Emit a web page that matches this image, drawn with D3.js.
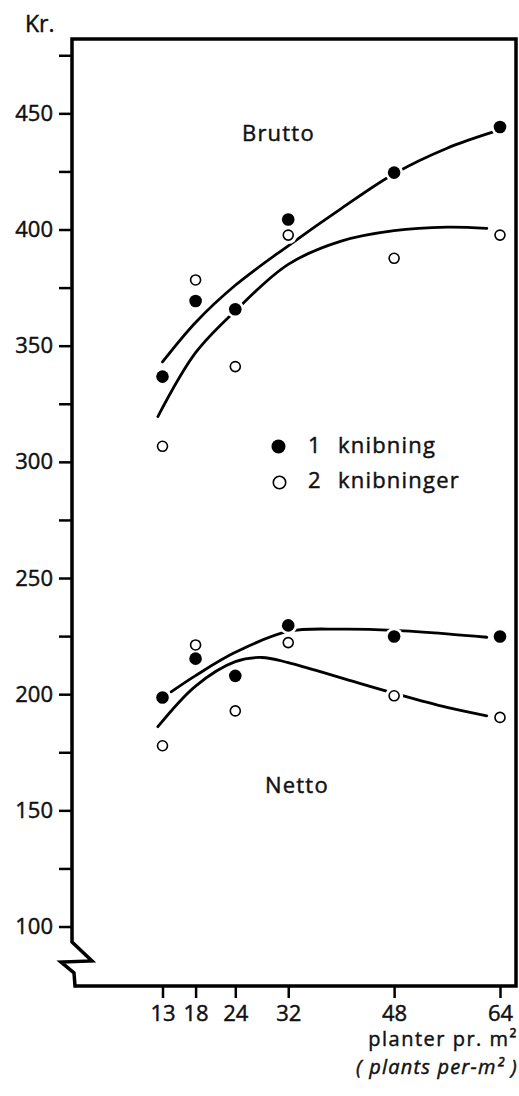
<!DOCTYPE html>
<html>
<head>
    <meta charset="utf-8">
    <script src="https://d3js.org/d3.v7.min.js"></script>
    <style>
        body { margin: 0; background: #fff; }
        svg { display: block; }
        text { font-family: "Open Sans", Lato, sans-serif; fill: #111; stroke: #111; stroke-width: 0.45px; }
    </style>
</head>
<body>
    <svg id="chart" width="519" height="1096"></svg>

    <script>
        // plant density (plants per m2)
        const density = [13, 18, 24, 32, 48, 64];

        // observed values, Kr.
        const brutto1 = [336.7, 369.2, 365.7, 404.3, 424.5, 444.1];
        const brutto2 = [306.7, 378.3, 341.0, 397.6, 387.6, 397.6];
        const netto1 = [198.6, 215.3, 207.9, 229.6, 224.8, 224.8];
        const netto2 = [177.8, 221.2, 192.8, 222.2, 199.3, 190.0];

        // hand drawn fitted curves
        const fitB1x = [13, 18, 24, 32, 40, 48, 56, 63];
        const fitB1y = [343, 360, 376, 393, 409, 424, 435, 442];
        const fitB2x = [12.3, 18, 24, 32, 40, 48, 56, 62];
        const fitB2y = [319.5, 347, 365, 385, 395, 399.5, 401, 400.5];
        const fitN1x = [14.3, 18, 24, 32, 40, 48, 56, 62];
        const fitN1y = [201, 208, 218, 227, 228, 227.5, 226, 224.5];
        const fitN2x = [12.3, 18, 24, 28, 32, 40, 48, 56, 62];
        const fitN2y = [186, 203.5, 214, 215.8, 213.6, 207, 200.4, 194.3, 190.7];

        const yTicks = d3.range(100, 476, 25);

        const svg = d3.select("#chart");

        const axisX = 72, rightX = 516;
        const x = d3.scaleLinear().domain([13, 64]).range([162.5, 500]);
        const y = d3.scaleLinear().domain([74.4, 482]).range([986, 39]);

        // frame with the broken value axis
        const frame = [
            [axisX, y(482)], [axisX, y(93.3)], [axisX + 20, y(85.2)],
            [axisX - 11, y(84.7)], [axisX + 2, y(80)], [axisX + 3, y(74.4)],
            [rightX, y(74.4)], [rightX, y(482)]
        ];
        svg.append("path")
            .attr("d", d3.line()(frame) + "Z")
            .attr("fill", "none")
            .attr("stroke", "#000")
            .attr("stroke-width", 3.5)
            .attr("stroke-linejoin", "miter");

        // y axis
        const yAxis = svg.append("g")
            .attr("transform", `translate(${axisX},0)`)
            .call(d3.axisLeft(y)
                .tickValues(yTicks)
                .tickSize(13)
                .tickPadding(6)
                .tickFormat(d => d % 50 === 0 ? d : ""));
        yAxis.select(".domain").remove();
        yAxis.selectAll("line").attr("stroke", "#000").attr("stroke-width", 2.5);
        yAxis.selectAll("text")
            .style("font-size", "22px")
            .attr("fill", "#111");

        // x axis
        const xAxis = svg.append("g")
            .attr("transform", `translate(0,${y(74.4)})`)
            .call(d3.axisBottom(x)
                .tickValues(density)
                .tickSize(12)
                .tickPadding(7));
        xAxis.select(".domain").remove();
        xAxis.selectAll("line").attr("stroke", "#000").attr("stroke-width", 2.5);
        xAxis.selectAll("text")
            .style("font-size", "22px")
            .attr("fill", "#111");

        // axis titles
        svg.append("text")
            .attr("x", 25).attr("y", 32)
            .style("font-size", "23px")
            .text("Kr.");

        svg.append("text")
            .attr("x", 518).attr("y", 1046)
            .attr("text-anchor", "end")
            .style("font-size", "20px")
            .style("letter-spacing", "1.5px")
            .html("planter pr. m²");

        svg.append("text")
            .attr("x", 518).attr("y", 1074)
            .attr("text-anchor", "end")
            .style("font-size", "20px")
            .style("font-style", "italic")
            .style("letter-spacing", "1.2px")
            .text("( plants per-m² )");

        // fitted curves
        const line = d3.line()
            .x(d => x(d[0]))
            .y(d => y(d[1]))
            .curve(d3.curveCatmullRom.alpha(0.5));

        const fits = [
            d3.zip(fitB1x, fitB1y), d3.zip(fitB2x, fitB2y),
            d3.zip(fitN1x, fitN1y), d3.zip(fitN2x, fitN2y)
        ];
        svg.append("g").selectAll("path")
            .data(fits)
            .join("path")
            .attr("d", line)
            .attr("fill", "none")
            .attr("stroke", "#000")
            .attr("stroke-width", 2.8)
            .attr("stroke-linecap", "round");

        // points: white halo first so the curves break round the markers
        const filled = d3.zip(density, brutto1).concat(d3.zip(density, netto1));
        const open = d3.zip(density, brutto2).concat(d3.zip(density, netto2));

        const halo = svg.append("g");
        halo.selectAll("circle")
            .data(filled.concat(open))
            .join("circle")
            .attr("cx", d => x(d[0]))
            .attr("cy", d => y(d[1]))
            .attr("r", 9)
            .attr("fill", "#fff");

        svg.append("g").selectAll("circle")
            .data(filled)
            .join("circle")
            .attr("cx", d => x(d[0]))
            .attr("cy", d => y(d[1]))
            .attr("r", 6.3)
            .attr("fill", "#000");

        svg.append("g").selectAll("circle")
            .data(open)
            .join("circle")
            .attr("cx", d => x(d[0]))
            .attr("cy", d => y(d[1]))
            .attr("r", 5)
            .attr("fill", "#fff")
            .attr("stroke", "#000")
            .attr("stroke-width", 1.6);

        // group labels
        svg.append("text")
            .attr("x", 242).attr("y", 141)
            .style("font-size", "22px")
            .style("letter-spacing", "1.2px")
            .text("Brutto");

        svg.append("text")
            .attr("x", 265).attr("y", 793)
            .style("font-size", "22px")
            .style("letter-spacing", "1.2px")
            .text("Netto");

        // legend
        const legend = svg.append("g");
        legend.append("circle")
            .attr("cx", 278.5).attr("cy", 446.5).attr("r", 7)
            .attr("fill", "#000");
        legend.append("circle")
            .attr("cx", 279.5).attr("cy", 482.5).attr("r", 6.2)
            .attr("fill", "#fff").attr("stroke", "#000").attr("stroke-width", 1.6);

        const legendRows = [["1", "knibning", 453], ["2", "knibninger", 488]];
        legendRows.forEach(r => {
            legend.append("text")
                .attr("x", 308).attr("y", r[2])
                .style("font-size", "22px")
                .text(r[0]);
            legend.append("text")
                .attr("x", 338).attr("y", r[2])
                .style("font-size", "22px")
                .style("letter-spacing", "1.2px")
                .text(r[1]);
        });
    </script>
</body>
</html>
